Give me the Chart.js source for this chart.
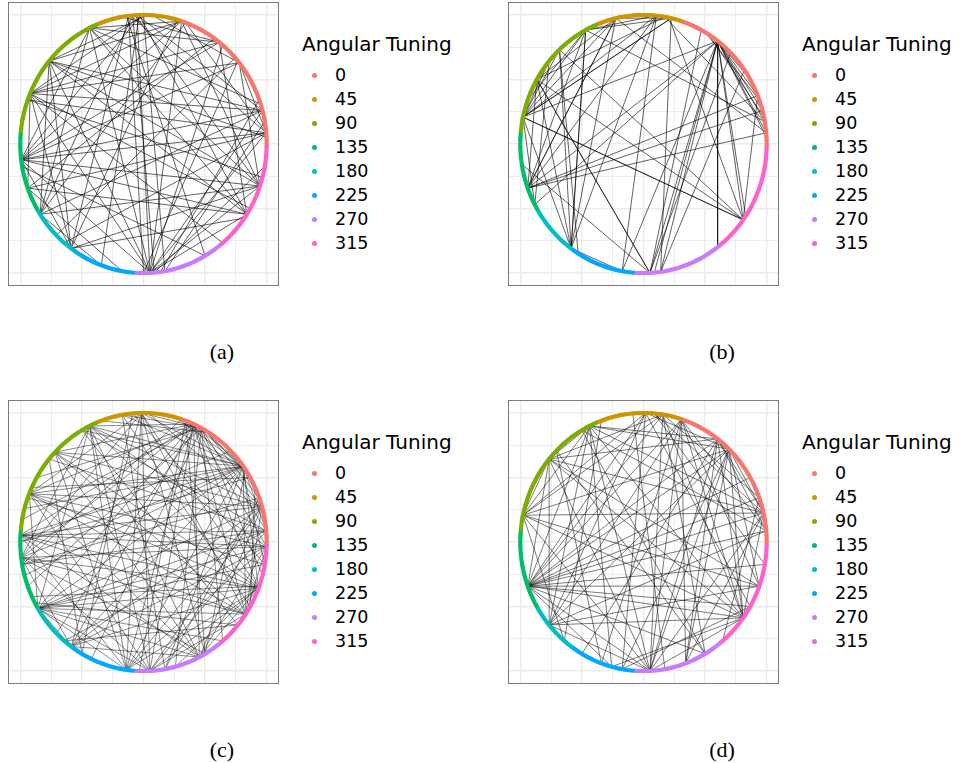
<!DOCTYPE html>
<html>
<head>
<meta charset="utf-8">
<script src="https://cdn.jsdelivr.net/npm/chart.js@4.4.1/dist/chart.umd.min.js"></script>
<style>
	body { margin: 0; width: 961px; height: 763px; background: #fff; position: relative; overflow: hidden; font-family: "DejaVu Sans", sans-serif; }
	.panel { position: absolute; width: 271px; height: 284px; }
	.legend { position: absolute; width: 170px; height: 284px; color: #000; }
	.legend-title { position: absolute; left: 0; top: 30px; font-size: 20px; line-height: 24px; white-space: nowrap; }
	.legend-item { position: absolute; left: 0; height: 24px; line-height: 24px; font-size: 17.5px; white-space: nowrap; }
	.legend-dot { position: absolute; left: 9.5px; top: 9.5px; width: 5px; height: 5px; border-radius: 50%; }
	.legend-text { position: absolute; left: 33px; top: 0; }
	.caption { position: absolute; width: 100px; text-align: center; font-family: "Liberation Serif", serif; font-size: 22px; line-height: 24px; }
</style>
</head>
<body>
<script>
// angular tuning groups, in layout order round the circle (counter-clockwise from the right)
const tuning_labels = ['0', '45', '90', '135', '180', '225', '270', '315']
const tuning_colours = ['#F8766D', '#CD9600', '#7CAE00', '#00BE67', '#00BFC4', '#00A9FF', '#C77CFF', '#FF61CC']
const group_counts = [72, 40, 63, 36, 24, 31, 43, 51]
const grid_values = [-1, -0.75, -0.5, -0.25, 0, 0.25, 0.5, 0.75, 1]

// edges, as [angle of node 1, angle of node 2] in degrees
const edges_a = [
	[93, 273], [95, 275], [90, 280], [97, 270], [92, 327], [94, 341], [96, 5], [93, 15], [91, 187], [95, 213],
	[97, 234], [88, 140], [90, 157], [86, 39], [100, 52], [98, 300], [92, 250],
	[72, 157], [72, 187], [72, 140], [72, 116], [70, 213], [72, 273], [74, 234], [72, 341], [70, 5],
	[52, 187], [52, 157], [55, 200], [52, 327], [50, 273], [52, 116],
	[39, 157], [39, 5], [39, 341], [39, 187], [40, 270], [42, 225],
	[15, 187], [15, 157], [15, 273], [15, 140], [15, 213], [18, 116],
	[5, 187], [5, 273], [5, 200], [5, 230], [5, 160], [3, 140],
	[341, 187], [341, 273], [341, 213], [341, 116], [341, 140], [341, 234], [345, 160],
	[327, 273], [327, 187], [327, 140], [327, 116], [327, 200], [330, 157], [325, 234],
	[273, 116], [273, 140], [273, 157], [273, 187], [278, 20], [280, 10], [275, 350],
	[116, 187], [116, 213], [140, 213], [140, 234], [157, 234], [157, 200], [187, 234], [200, 260], [213, 250],
	[190, 300], [157, 310]
]
const edges_b = [
	[53, 22], [53, 15], [53, 10], [53, 5], [53, 3], [53, 30], [53, 40],
	[53, 307], [53, 324], [53, 326], [53, 275], [53, 260], [53, 200], [53, 208], [53, 168],
	[58, 12], [60, 20],
	[80, 10], [78, 324], [84, 260], [77, 278], [84, 234], [77, 168], [80, 150], [103, 5], [103, 168],
	[103, 234], [103, 200], [77, 103], [84, 118], [77, 118],
	[118, 10], [118, 168], [118, 234], [118, 200], [133, 234], [133, 324], [133, 168], [150, 324], [150, 234],
	[150, 273], [150, 200], [150, 103], [168, 324], [168, 234], [168, 208], [168, 84], [168, 77], [160, 118], [140, 168],
	[200, 15], [200, 22], [200, 5], [200, 103], [200, 84], [189, 273], [208, 140],
	[234, 260], [234, 118], [238, 133],
	[273, 53], [273, 45], [273, 62], [273, 150], [278, 53], [278, 35],
	[324, 168], [324, 22]
]
const edges_c = [
	[36, 158], [36, 165], [36, 177], [36, 187], [36, 195], [36, 211], [36, 136], [36, 120], [36, 116], [36, 100],
	[36, 91], [36, 62], [36, 66], [36, 75], [36, 234], [36, 262], [36, 280], [36, 326], [36, 339], [36, 16],
	[36, 5], [38, 350], [34, 300],
	[66, 116], [66, 136], [66, 158], [66, 177], [66, 187], [66, 211], [66, 234], [66, 262], [66, 273], [66, 297],
	[66, 326], [66, 339], [66, 16], [66, 358], [62, 91], [62, 100], [62, 150], [62, 200], [62, 245], [62, 285],
	[62, 310], [62, 345], [62, 5], [64, 225], [64, 170], [60, 30], [60, 20], [58, 110], [70, 268], [70, 300], [72, 190],
	[91, 273], [91, 262], [91, 234], [91, 300], [91, 326], [91, 339], [91, 187], [91, 158], [95, 240], [95, 350],
	[88, 16], [100, 280], [100, 330],
	[116, 16], [116, 339], [116, 358], [116, 297], [116, 273], [116, 262], [116, 211], [116, 187], [120, 320], [120, 5],
	[136, 16], [136, 339], [136, 297], [136, 262], [136, 326], [140, 5], [140, 240],
	[158, 16], [158, 358], [158, 339], [158, 326], [158, 297], [158, 273], [158, 211], [155, 30], [160, 350],
	[177, 16], [177, 358], [177, 339], [177, 326], [177, 297], [177, 262], [177, 5], [180, 30], [180, 45],
	[187, 358], [187, 339], [187, 326], [187, 300], [187, 273], [187, 234], [190, 20], [190, 5],
	[211, 16], [211, 358], [211, 339], [211, 326], [211, 310], [211, 297], [211, 273], [211, 262], [211, 234],
	[211, 350], [211, 5], [205, 340], [208, 320],
	[234, 339], [234, 16], [234, 358], [234, 297], [230, 320], [230, 5],
	[262, 339], [262, 16], [262, 358], [273, 339], [273, 326], [273, 16], [273, 5], [280, 20], [285, 340],
	[297, 339], [297, 16], [297, 358], [326, 16], [326, 358], [330, 25]
]
const edges_d = [
	[200, 13], [200, 5], [200, 20], [200, 324], [200, 330], [200, 340], [200, 350], [200, 30], [200, 46], [200, 53],
	[200, 72], [200, 81], [200, 89], [200, 116], [200, 140], [200, 273], [200, 300], [200, 255],
	[168, 13], [168, 340], [168, 324], [168, 81], [168, 89], [168, 116], [168, 140], [168, 46], [168, 273], [168, 230],
	[220, 324], [220, 340], [220, 5], [220, 46], [220, 72], [220, 89], [220, 116], [220, 140], [220, 273],
	[140, 13], [140, 340], [140, 324], [140, 273], [140, 53], [140, 81], [140, 116], [135, 300], [135, 250],
	[116, 13], [116, 46], [116, 53], [116, 324], [116, 273], [116, 255], [120, 5], [120, 300], [110, 230],
	[81, 273], [81, 300], [81, 324], [81, 20], [89, 260], [89, 330], [89, 46], [85, 13], [85, 350], [95, 280],
	[72, 273], [72, 324], [72, 340], [72, 5], [72, 290], [72, 250],
	[53, 273], [53, 290], [53, 324], [53, 5], [53, 13], [53, 240],
	[46, 273], [46, 324], [46, 340], [46, 13], [46, 290], [46, 260],
	[13, 324], [13, 273], [13, 290], [20, 310],
	[324, 273], [324, 255], [330, 260]
]

const panels = [
	{left: 8, top: 2, edges: edges_a, edge_colour: 'rgba(0,0,0,0.78)', caption: '(a)'},
	{left: 508, top: 2, edges: edges_b, edge_colour: 'rgba(0,0,0,0.78)', caption: '(b)'},
	{left: 8, top: 400, edges: edges_c, edge_colour: 'rgba(0,0,0,0.58)', caption: '(c)'},
	{left: 508, top: 400, edges: edges_d, edge_colour: 'rgba(0,0,0,0.66)', caption: '(d)'}
]

function polar(deg) {
	let rad = deg * Math.PI / 180
	return {x: Math.cos(rad), y: Math.sin(rad)}
}

// circular layout: node i sits at 2*pi*i/N, groups follow each other
function node_datasets() {
	let total = group_counts.reduce((a, b) => a + b, 0)
	let datasets = []
	let index = 0
	for (let g = 0; g < group_counts.length; g++) {
		let points = []
		for (let k = 0; k < group_counts[g]; k++) {
			points.push(polar(index * 360 / total))
			index++
		}
		datasets.push({
			label: tuning_labels[g],
			data: points,
			pointRadius: 2.2,
			pointBorderWidth: 0,
			pointBackgroundColor: tuning_colours[g],
			borderColor: tuning_colours[g],
			order: 0
		})
	}
	return datasets
}

function edge_dataset(edges, colour) {
	let points = []
	for (let [a, b] of edges) {
		points.push(polar(a), polar(b), {x: null, y: null})
	}
	return {
		label: 'edges',
		data: points,
		showLine: true,
		spanGaps: false,
		borderColor: colour,
		borderWidth: 0.8,
		pointRadius: 0,
		order: 1
	}
}

function get_axis() {
	return {
		type: 'linear',
		min: -1.1,
		max: 1.1,
		ticks: {display: false},
		border: {display: false},
		grid: {
			color: '#ebebeb',
			drawTicks: false,
			lineWidth: (ctx) => {
				if (!ctx.tick) return 1
				return Math.abs((ctx.tick.value * 2) % 1) < 1e-6 ? 1.4 : 0.9
			}
		},
		afterBuildTicks: (scale) => {
			scale.ticks = grid_values.map(v => ({value: v}))
		}
	}
}

const panel_border = {
	id: 'panel_border',
	afterDraw(chart) {
		let ctx = chart.ctx
		let area = chart.chartArea
		ctx.save()
		ctx.strokeStyle = '#7a7a7a'
		ctx.lineWidth = 1
		ctx.strokeRect(area.left + 0.5, area.top + 0.5, area.right - area.left - 1, area.bottom - area.top - 1)
		ctx.restore()
	}
}

function make_legend(panel) {
	let legend = document.createElement('div')
	legend.className = 'legend'
	legend.style.left = (panel.left + 294) + 'px'
	legend.style.top = panel.top + 'px'
	let title = document.createElement('div')
	title.className = 'legend-title'
	title.textContent = 'Angular Tuning'
	legend.appendChild(title)
	for (let i = 0; i < tuning_labels.length; i++) {
		let item = document.createElement('div')
		item.className = 'legend-item'
		item.style.top = (61 + i * 24.05) + 'px'
		let dot = document.createElement('span')
		dot.className = 'legend-dot'
		dot.style.background = tuning_colours[i]
		let text = document.createElement('span')
		text.className = 'legend-text'
		text.textContent = tuning_labels[i]
		item.appendChild(dot)
		item.appendChild(text)
		legend.appendChild(item)
	}
	document.body.appendChild(legend)

	let caption = document.createElement('div')
	caption.className = 'caption'
	caption.textContent = panel.caption
	caption.style.left = (panel.left + 214 - 50) + 'px'
	caption.style.top = (panel.top + 338) + 'px'
	document.body.appendChild(caption)
}

function make_panel(panel) {
	let canvas = document.createElement('canvas')
	canvas.className = 'panel'
	canvas.width = 271
	canvas.height = 284
	canvas.style.left = panel.left + 'px'
	canvas.style.top = panel.top + 'px'
	document.body.appendChild(canvas)

	let datasets = node_datasets()
	datasets.push(edge_dataset(panel.edges, panel.edge_colour))

	new Chart(canvas, {
		type: 'scatter',
		data: {datasets: datasets},
		options: {
			responsive: false,
			animation: false,
			devicePixelRatio: 1,
			layout: {padding: 0, autoPadding: false},
			scales: {x: get_axis(), y: get_axis()},
			plugins: {
				legend: {display: false},
				tooltip: {enabled: false}
			}
		},
		plugins: [panel_border]
	})
	make_legend(panel)
}

panels.forEach(make_panel)
</script>
</body>
</html>
